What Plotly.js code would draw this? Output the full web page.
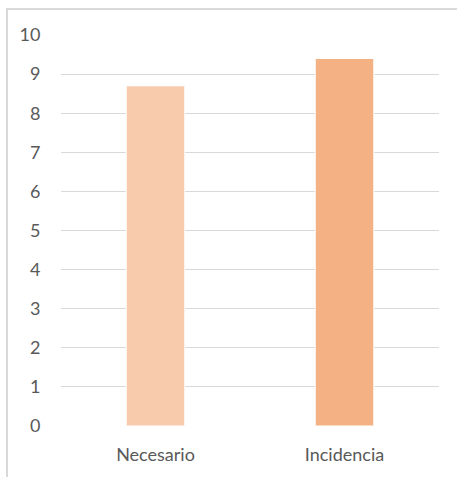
<!DOCTYPE html>
<html>
<head>
<meta charset="utf-8">
<script src="https://cdn.plot.ly/plotly-3.0.1.min.js"></script>
<style>
html,body{margin:0;padding:0;background:#fff;}
#wrap{position:relative;width:457px;height:477px;overflow:hidden;}
#frame{position:absolute;left:6px;top:8px;width:470px;height:490px;border:2px solid #d9d9d9;box-sizing:border-box;pointer-events:none;}
#chart{position:absolute;left:0;top:0;width:457px;height:477px;}
</style>
</head>
<body>
<div id="wrap">
<div id="chart"></div>
<div id="frame"></div>
</div>
<script>
const categories = ["Necesario", "Incidencia"];
const values = [8.7, 9.4];
const barColors = ["#F8CBAD", "#F4B183"];
const yTicks = [0,1,2,3,4,5,6,7,8,9,10];

const trace = {
  type: "bar",
  x: categories,
  y: values,
  marker: {color: barColors, line: {color: "#ffffff", width: 1}},
  hoverinfo: "none"
};

const layout = {
  width: 457, height: 477,
  margin: {l: 61, r: 18, t: 35, b: 51},
  paper_bgcolor: "rgba(0,0,0,0)",
  plot_bgcolor: "#ffffff",
  showlegend: false,
  bargap: 0.69,
  font: {family: "Lato, 'Open Sans', sans-serif", size: 18, color: "#595959"},
  xaxis: {
    showgrid: false, showline: false, zeroline: false,
    ticks: "outside", ticklen: 12, tickcolor: "rgba(0,0,0,0)",
    tickfont: {size: 18, color: "#595959"}
  },
  yaxis: {
    range: [0, 10],
    tickvals: yTicks,
    showgrid: true, gridcolor: "#d9d9d9", gridwidth: 1,
    zeroline: false, showline: false,
    ticks: "outside", ticklen: 16, tickcolor: "rgba(0,0,0,0)",
    tickfont: {size: 18, color: "#595959"}
  }
};

Plotly.newPlot("chart", [trace], layout, {displayModeBar: false, staticPlot: true});
</script>
</body>
</html>
